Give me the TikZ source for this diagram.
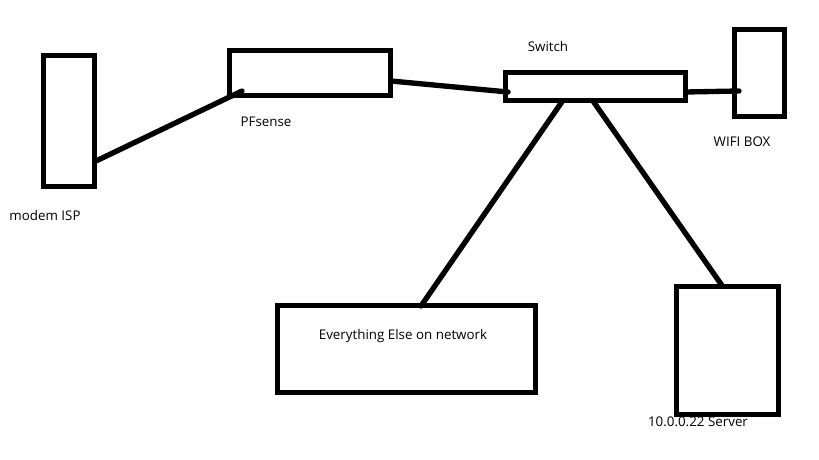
\documentclass[tikz,border=0pt]{standalone}
\usepackage{fontspec}
\setmainfont{Open Sans}
\usepackage{tikz}
\usetikzlibrary{positioning}

\begin{document}
\begin{tikzpicture}[
  x=0.03cm, y=-0.03cm,
  box/.style={draw, line width=0.15cm, inner sep=0pt},
  wire/.style={line width=0.16cm, line cap=round},
  every node/.style={font=\fontsize{11.4}{13}\selectfont}
]
\useasboundingbox (0,0) rectangle (819,460);

% ---- boxes ----
\node[box, minimum width=51*0.03cm, minimum height=131*0.03cm] (modem) at (69,121) {};
\node[box, minimum width=161*0.03cm, minimum height=45*0.03cm] (pfsense) at (310,73) {};
\node[box, minimum width=180*0.03cm, minimum height=28*0.03cm] (switch) at (595.5,86.5) {};
\node[box, minimum width=50*0.03cm, minimum height=87*0.03cm] (wifi) at (759.5,73) {};
\node[box, minimum width=258*0.03cm, minimum height=87*0.03cm] (rest) at (406.5,349) {};
\node[box, minimum width=102*0.03cm, minimum height=128*0.03cm] (server) at (727.5,350.5) {};

% ---- labels ----
\node (modemlbl) at (45,215) {modem ISP};
\node (pfsenselbl) at (266,122) {PFsense};
\node (switchlbl) at (548,46) {Switch};
\node (wifilbl) at (742,142) {WIFI BOX};
\node (restlbl) at (403,336) {Everything Else on network};
\node (serverlbl) at (698,422) {10.0.0.22 Server};

% ---- cables ----
\draw[wire] ([shift={(-1,40)}]modem.east) -- ([shift={(15,-7)}]pfsense.south west);
\draw[wire] ([shift={(-2,8)}]pfsense.east) -- ([shift={(5,5.5)}]switch.west);
\draw[wire] ([shift={(-2,5.5)}]switch.east) -- ([shift={(7,18)}]wifi.west);
\draw[wire] ([shift={(-33,-2)}]switch.south) -- ([shift={(14.5,3)}]rest.north);
\draw[wire] ([shift={(-2.5,-2)}]switch.south) -- ([shift={(-5.5,1.5)}]server.north);
\end{tikzpicture}
\end{document}
